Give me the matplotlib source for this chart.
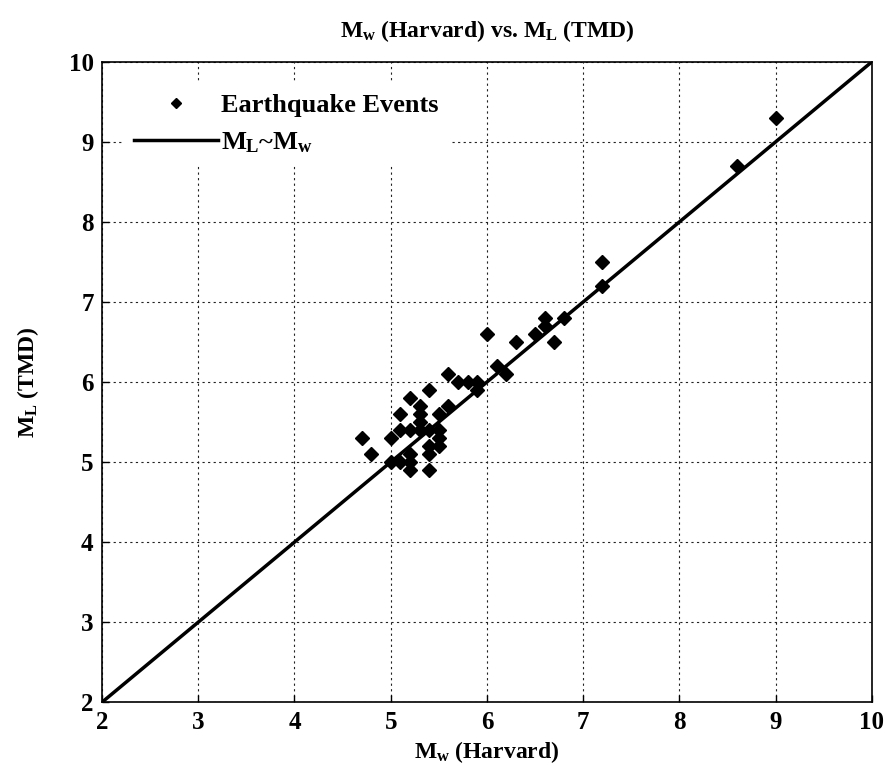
import matplotlib
matplotlib.use("Agg")
import matplotlib.pyplot as plt

plt.rcParams['font.family'] = ['Liberation Serif', 'DejaVu Serif']
plt.rcParams['font.weight'] = 'bold'
plt.rcParams['mathtext.fontset'] = 'custom'
plt.rcParams['mathtext.rm'] = 'Liberation Serif:bold'
plt.rcParams['mathtext.bf'] = 'Liberation Serif:bold'
plt.rcParams['mathtext.it'] = 'Liberation Serif:bold'

mw = [4.7, 4.8, 5.0, 5.0, 5.1, 5.1, 5.1, 5.2, 5.2, 5.2, 5.2, 5.2, 5.3, 5.3, 5.3, 5.3,
      5.4, 5.4, 5.4, 5.4, 5.4, 5.5, 5.5, 5.5, 5.5, 5.6, 5.6, 5.7, 5.8, 5.9, 5.9,
      6.0, 6.1, 6.2, 6.3, 6.5, 6.6, 6.6, 6.7, 6.8, 7.2, 7.2, 8.6, 9.0]
ml = [5.3, 5.1, 5.3, 5.0, 5.6, 5.4, 5.0, 5.8, 5.4, 5.1, 5.0, 4.9, 5.7, 5.6, 5.5, 5.4,
      5.9, 5.4, 5.2, 5.1, 4.9, 5.6, 5.4, 5.3, 5.2, 5.7, 6.1, 6.0, 6.0, 6.0, 5.9,
      6.6, 6.2, 6.1, 6.5, 6.6, 6.8, 6.7, 6.5, 6.8, 7.5, 7.2, 8.7, 9.3]
line_x = [2, 10]
line_y = [2, 10]
ticks = [2, 3, 4, 5, 6, 7, 8, 9, 10]

fig = plt.figure(figsize=(8.87, 7.82), dpi=100)
ax = fig.add_axes([0.115, 0.102, 0.868, 0.819])

ax.plot(mw, ml, 'D', color='black', markersize=7, label='Earthquake Events', zorder=3)
ax.plot(line_x, line_y, '-', color='black', linewidth=2.5, label=r'$M_L$~$M_w$', zorder=2)

ax.set_xlim(2, 10)
ax.set_ylim(2, 10)
ax.set_xticks(ticks)
ax.set_yticks(ticks)
ax.tick_params(direction='in', labelsize=18, length=5, width=1, pad=6)
for lab in ax.get_xticklabels() + ax.get_yticklabels():
    lab.set_fontweight('bold')
ax.grid(True, linestyle=(0, (2, 3)), color='#222222', linewidth=0.8)
ax.set_axisbelow(True)
for s in ax.spines.values():
    s.set_linewidth(1.2)

ax.set_title(r'$M_w$ (Harvard) vs. $M_L$ (TMD)', fontsize=17, fontweight='bold', pad=18)
ax.set_xlabel(r'$M_w$ (Harvard)', fontsize=17, fontweight='bold', labelpad=4)
ax.set_ylabel(r'$M_L$ (TMD)', fontsize=17, fontweight='bold', labelpad=20)

leg = ax.legend(loc='upper left', prop={'size': 19, 'weight': 'bold'}, frameon=True,
                handlelength=3.2, markerscale=0.8, borderaxespad=0.8, labelspacing=0.5,
                handletextpad=0.1)
leg.get_frame().set_edgecolor('white')
leg.get_frame().set_facecolor('white')
leg.get_frame().set_alpha(1)

fig.savefig('out.png', dpi=100)
